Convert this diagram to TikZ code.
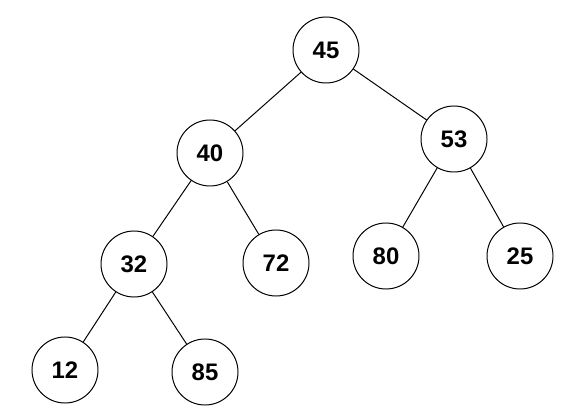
\documentclass[tikz,border=0pt]{standalone}
\usepackage{fontspec}
\setmainfont{Liberation Sans}
\begin{document}
\begin{tikzpicture}[%
    x=0.025cm, y=-0.025cm,
    line width=0.7pt,
    keynode/.style={
        circle,
        draw=black,
        minimum size=1.65cm,
        inner sep=0pt,
        font=\fontsize{17}{20}\selectfont\bfseries
    }
]
    % Fix the page to the size of the image.
    \useasboundingbox (0,0) rectangle (577,418);

    % Keys of the tree, one row at a time.
    \node[keynode] (n45) at (326,  50) {45};

    \node[keynode] (n40) at (210, 153) {40};
    \node[keynode] (n53) at (454, 139) {53};

    \node[keynode] (n32) at (134, 264) {32};
    \node[keynode] (n72) at (276, 263) {72};
    \node[keynode] (n80) at (386, 256) {80};
    \node[keynode] (n25) at (520, 256) {25};

    \node[keynode] (n12) at ( 65, 370) {12};
    \node[keynode] (n85) at (205, 372) {85};

    % Links from parent to child.
    \draw (n45) -- (n40);
    \draw (n45) -- (n53);
    \draw (n40) -- (n32);
    \draw (n40) -- (n72);
    \draw (n53) -- (n80);
    \draw (n53) -- (n25);
    \draw (n32) -- (n12);
    \draw (n32) -- (n85);
\end{tikzpicture}
\end{document}
